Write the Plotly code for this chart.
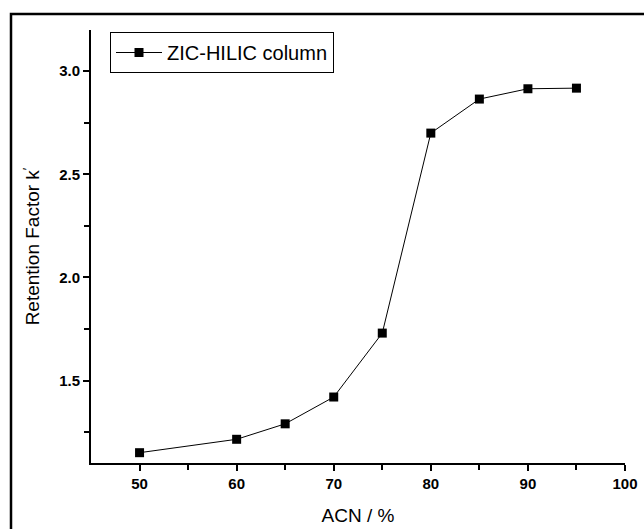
import plotly.graph_objects as go

acn = [50, 60, 65, 70, 75, 80, 85, 90, 95]
k_values = [1.15, 1.215, 1.29, 1.42, 1.73, 2.70, 2.865, 2.915, 2.918]
series_name = "ZIC-HILIC column"
x_ticks = [50, 60, 70, 80, 90, 100]
y_ticks = [1.5, 2.0, 2.5, 3.0]
y_tick_labels = ["1.5", "2.0", "2.5", "3.0"]

W, H = 644, 529
ml, mt = 91, 30
mr = W - 625
mb = H - 463
pw, ph = W - ml - mr, H - mt - mb

def px_to_paper_x(px):
    return (px - ml) / pw

def px_to_paper_y(py):
    return (H - mb - py) / ph

fig = go.Figure()
fig.add_trace(go.Scatter(
    x=acn, y=k_values, mode="lines+markers", name=series_name,
    line=dict(color="black", width=1),
    marker=dict(symbol="square", size=9, color="black"),
))

fig.add_shape(type="rect", xref="paper", yref="paper",
              x0=px_to_paper_x(11), x1=px_to_paper_x(660),
              y0=px_to_paper_y(545), y1=px_to_paper_y(14),
              line=dict(color="black", width=2.5), layer="above")

fam = "Arial, Liberation Sans"
fig.update_layout(
    width=W, height=H, autosize=False,
    margin=dict(l=ml, r=mr, t=mt, b=mb, autoexpand=False),
    paper_bgcolor="white", plot_bgcolor="white",
    font=dict(family=fam, color="black"),
    showlegend=True,
    legend=dict(x=px_to_paper_x(110), y=px_to_paper_y(32), xanchor="left", yanchor="top",
                bordercolor="black", borderwidth=1, bgcolor="white",
                font=dict(size=20, family=fam),
                itemwidth=46, tracegroupgap=0),
    xaxis=dict(range=[45, 100], tickvals=x_ticks, ticktext=[str(v) for v in x_ticks],
               automargin=False, ticklabeloverflow="allow",
               showgrid=False, zeroline=False, showline=True, linecolor="black", linewidth=2,
               ticks="outside", ticklen=6, tickwidth=1.5, tickcolor="black",
               tickfont=dict(family=fam, size=15, weight="bold"),
               minor=dict(tickvals=[55, 65, 75, 85, 95], ticks="outside", ticklen=5, tickwidth=1.5, tickcolor="black"),
               title=dict(text="ACN / %", font=dict(size=19), standoff=18)),
    yaxis=dict(range=[1.1, 3.2], tickvals=y_ticks, ticktext=y_tick_labels,
               automargin=False, ticklabeloverflow="allow",
               showgrid=False, zeroline=False, showline=True, linecolor="black", linewidth=2,
               ticks="outside", ticklen=6, tickwidth=1.5, tickcolor="black",
               tickfont=dict(family=fam, size=15, weight="bold"),
               minor=dict(tickvals=[1.25, 1.75, 2.25, 2.75], ticks="outside", ticklen=5, tickwidth=1.5, tickcolor="black"),
               title=dict(text="Retention Factor k<sup>′</sup>", font=dict(size=19), standoff=14)),
)

fig.write_html("out.html", config={"displayModeBar": False},
               post_script="document.body.style.margin='0';document.body.style.overflow='hidden';")
